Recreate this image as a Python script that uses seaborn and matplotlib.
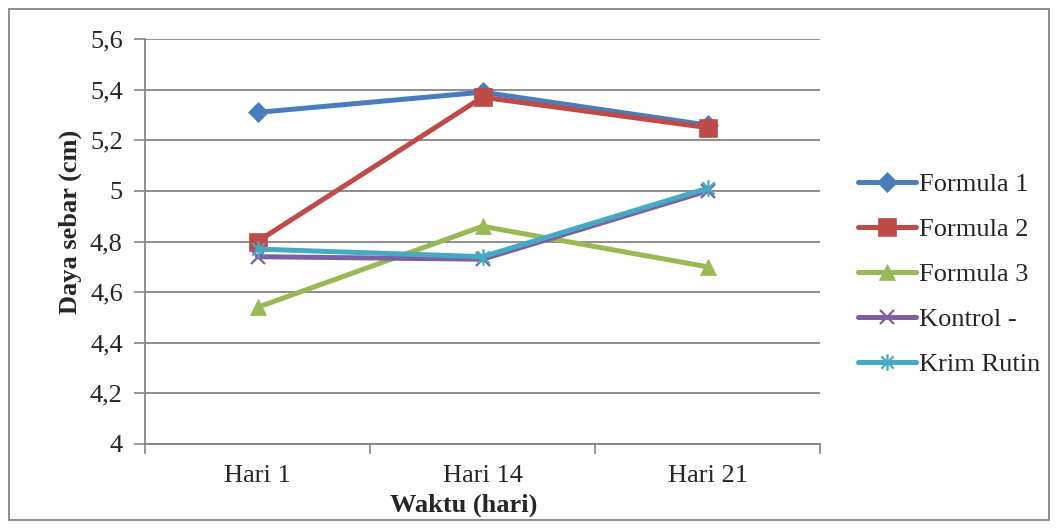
import pandas as pd
import matplotlib.pyplot as plt
import seaborn as sns
from matplotlib.path import Path
from matplotlib.patches import Rectangle
from matplotlib.ticker import FixedLocator, FuncFormatter


# Data
categories = ['Hari 1', 'Hari 14', 'Hari 21']
formula_1 = [5.31, 5.39, 5.26]
formula_2 = [4.80, 5.37, 5.25]
formula_3 = [4.54, 4.86, 4.70]
kontrol = [4.74, 4.73, 5.00]
krim_rutin = [4.77, 4.74, 5.01]

series_names = ['Formula 1', 'Formula 2', 'Formula 3', 'Kontrol -', 'Krim Rutin']
series_values = [formula_1, formula_2, formula_3, kontrol, krim_rutin]

# asterisk marker like Excel (x plus vertical bar)
ast = Path([(-1, -1), (1, 1), (-1, 1), (1, -1), (0, -1.35), (0, 1.35)],
           [Path.MOVETO, Path.LINETO, Path.MOVETO, Path.LINETO, Path.MOVETO, Path.LINETO])

colors = ['#4A7EBB', '#BE4B48', '#98B954', '#7D60A0', '#46AAC5']
markers = ['D', 's', '^', 'x', ast]
msizes = [10, 13, 12, 10, 12]

sns.set_style('white')
plt.rcParams['font.family'] = ['Liberation Serif', 'DejaVu Serif']
fs = 19

fig = plt.figure(figsize=(10.56, 5.29), dpi=100)
ax = fig.add_axes([145 / 1056, 1 - 444 / 529, 675 / 1056, 405 / 529])

for name, vals, c, m, ms in zip(series_names, series_values, colors, markers, msizes):
    df = pd.DataFrame({'Waktu': categories, 'Daya': vals})
    filled = m in ('D', 's', '^')
    sns.lineplot(data=df, x='Waktu', y='Daya', ax=ax, sort=False, color=c,
                 linewidth=3.6, marker=m, markersize=ms, label=name,
                 markeredgecolor=c, markeredgewidth=1.6 if not filled else 0.5,
                 markerfacecolor=c if filled else 'none')

ax.set_xlim(-0.5, 2.5)
ax.set_ylim(4, 5.6)
ax.yaxis.set_major_locator(FixedLocator([4 + 0.2 * i for i in range(9)]))
ax.yaxis.set_major_formatter(FuncFormatter(lambda v, p: f'{v:.1f}'.rstrip('0').rstrip('.').replace('.', ',')))

ax.set_xticks([0, 1, 2])
ax.set_xticks([-0.5, 0.5, 1.5, 2.5], minor=True)
ax.tick_params(axis='x', which='major', length=0, labelsize=fs, pad=15)
ax.tick_params(axis='x', which='minor', length=7, width=1.2, color='#868686', direction='out', bottom=True)
ax.tick_params(axis='y', length=8, width=1.2, color='#868686', direction='out', left=True, labelsize=fs, pad=8)

ax.yaxis.grid(True, color='#868686', linewidth=1.3)
ax.set_axisbelow(True)
for s in ['top', 'right']:
    ax.spines[s].set_visible(False)
for s in ['left', 'bottom']:
    ax.spines[s].set_color('#868686')
    ax.spines[s].set_linewidth(1.3)

ax.set_xlabel('Waktu (hari)', fontsize=fs, fontweight='bold', labelpad=5)
ax.set_ylabel('Daya sebar (cm)', fontsize=fs, fontweight='bold', labelpad=6)
ax.xaxis.label.set_x((464 - 145) / 675)
ax.yaxis.label.set_y((444 - 222) / 405)

ax.legend(loc='upper left', bbox_to_anchor=(858 / 1056, 1 - 173 / 529),
          bbox_transform=fig.transFigure, frameon=False, fontsize=fs,
          handlelength=2.2, handletextpad=0.1, labelspacing=0.81, borderaxespad=0,
          borderpad=0)

fig.patches.append(Rectangle((9 / 1056, 9 / 529), 1040 / 1056, 511 / 529,
                             transform=fig.transFigure, fill=False,
                             edgecolor='#868686', linewidth=1.3))

fig.savefig('out.png', dpi=100)
